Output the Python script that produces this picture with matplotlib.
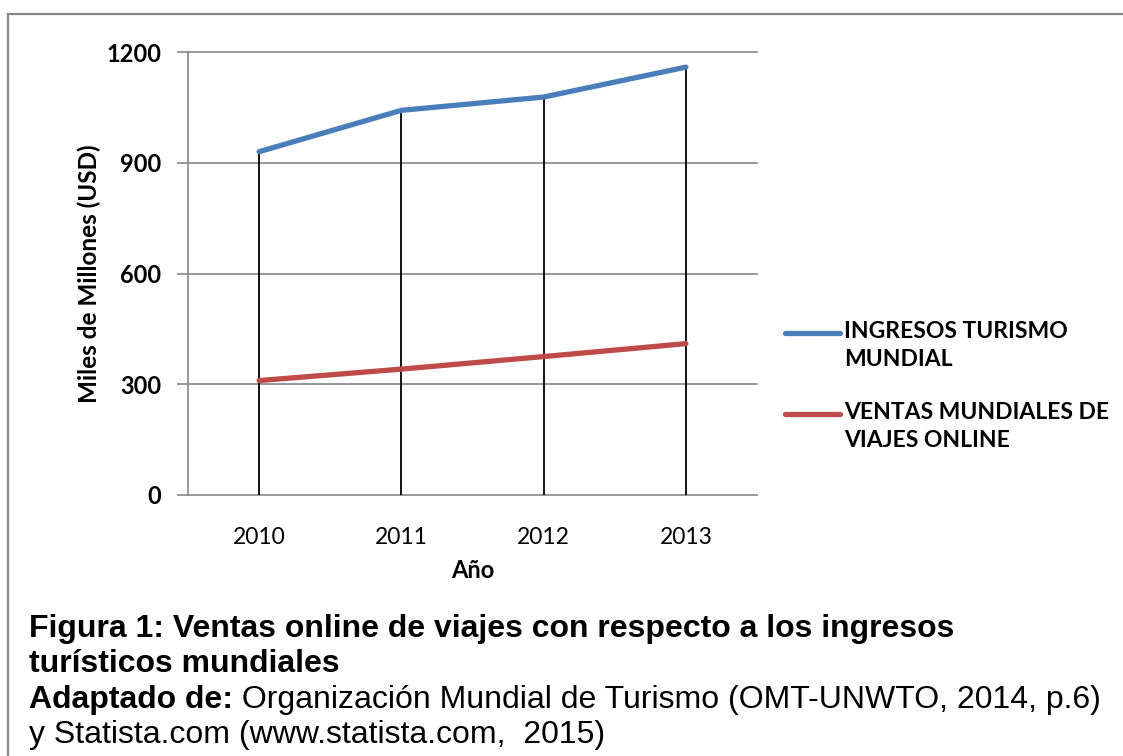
import matplotlib
matplotlib.use('Agg')
import matplotlib.pyplot as plt
from matplotlib.lines import Line2D
from matplotlib.patches import Rectangle

years = ['2010', '2011', '2012', '2013']
ingresos = [930, 1042, 1078, 1159]
ventas = [310, 341, 375, 410]
yticks = [0, 300, 600, 900, 1200]
labels = ['INGRESOS TURISMO\nMUNDIAL', 'VENTAS MUNDIALES DE\nVIAJES ONLINE']

blue = '#4A7EBB'
red = '#BE4B48'
grid = '#868686'

W, H = 1123, 756
fig = plt.figure(figsize=(W / 100, H / 100), dpi=100)
font = 'Lato'

# outer frame (runs off the right and bottom edges)
fig.patches.append(Rectangle((8 / W, -0.2), 1.2, 1.2 - 13.5 / H, transform=fig.transFigure,
                             fill=False, edgecolor=grid, lw=1.6, clip_on=False))

ax = fig.add_axes([188 / W, (H - 495) / H, 569 / W, 443 / H])
x = range(len(years))

for v in yticks:
    ax.axhline(v, color=grid, lw=1.2, zorder=0, clip_on=False)
ax.vlines(x, 0, ingresos, color='black', lw=1.3, zorder=1)
ax.plot(x, ingresos, color=blue, lw=3.8, solid_capstyle='round', zorder=3)
ax.plot(x, ventas, color=red, lw=3.8, solid_capstyle='round', zorder=3)

ax.set_xlim(-0.5, 3.5)
ax.set_ylim(0, 1200)
for s in ['top', 'right', 'bottom']:
    ax.spines[s].set_visible(False)
ax.spines['left'].set_color(grid)
ax.spines['left'].set_linewidth(1.2)

ax.set_yticks(yticks)
ax.set_yticklabels([str(v) for v in yticks], fontfamily=font, fontweight='bold', fontsize=17)
ax.tick_params(axis='y', length=8, width=1.2, color=grid, pad=11)
ax.set_xticks(list(x))
ax.set_xticklabels(years, fontfamily=font, fontsize=16.5)
ax.tick_params(axis='x', length=0, pad=23)

ax.set_ylabel('Miles de Millones (USD)', fontfamily=font, fontweight='bold', fontsize=17.5, labelpad=4)
ax.set_xlabel('Año', fontfamily=font, fontweight='bold', fontsize=17, labelpad=8)

# legend
for i, (c, lab) in enumerate(zip([blue, red], labels)):
    yy = 333 + i * 81
    fig.add_artist(Line2D([785 / W, 840 / W], [1 - yy / H, 1 - yy / H], color=c, lw=3.8,
                          solid_capstyle='round', transform=fig.transFigure))
    fig.text(844 / W, 1 - (yy - 12) / H, lab, fontfamily=font, fontweight='bold', fontsize=16.5,
             va='top', ha='left', linespacing=1.4)

# caption
cap = 'Liberation Sans'
fs = 23
fig.text(29 / W, 1 - 637 / H, 'Figura 1: Ventas online de viajes con respecto a los ingresos',
         fontfamily=cap, fontweight='bold', fontsize=fs, va='baseline')
fig.text(29 / W, 1 - 672 / H, 'turísticos mundiales', fontfamily=cap, fontweight='bold',
         fontsize=fs, va='baseline')
t = fig.text(29 / W, 1 - 708 / H, 'Adaptado de:', fontfamily=cap, fontweight='bold',
             fontsize=fs, va='baseline')
fig.canvas.draw()
bb = t.get_window_extent()
fig.text(bb.x1 / W, 1 - 708 / H, ' Organización Mundial de Turismo (OMT-UNWTO, 2014, p.6)',
         fontfamily=cap, fontsize=fs, va='baseline')
fig.text(29 / W, 1 - 743 / H, 'y Statista.com (www.statista.com,  2015)', fontfamily=cap,
         fontsize=fs, va='baseline')

fig.savefig('out.png', dpi=100)
